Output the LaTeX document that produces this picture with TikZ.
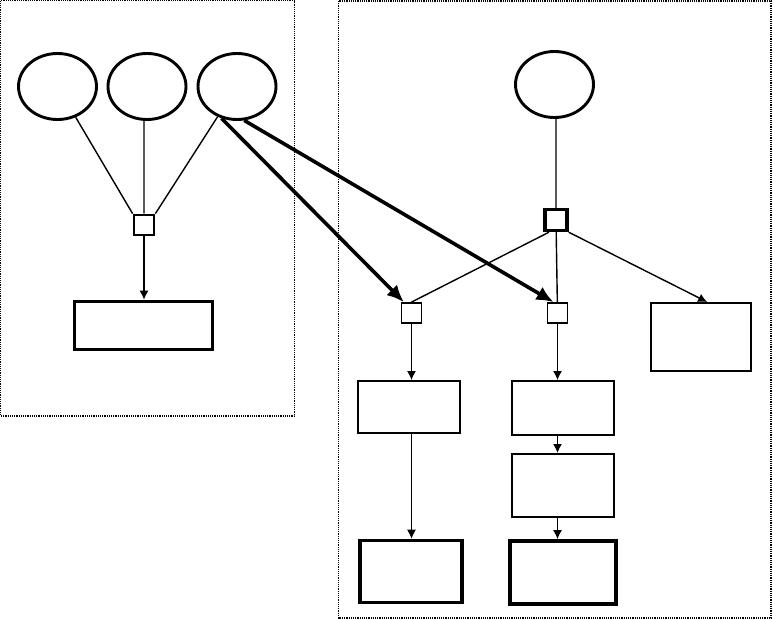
\documentclass[tikz,border=0pt]{standalone}
\usetikzlibrary{arrows.meta, shapes.geometric, positioning}

\begin{document}
\begin{tikzpicture}[x=1pt, y=-1pt, >={Latex[length=9pt, width=9pt]}]
\tikzset{
  var/.style={draw, ellipse, line width=2.9pt, minimum width=78pt, minimum height=66pt, inner sep=0pt},
  fac/.style={draw, rectangle, line width=1.8pt, minimum size=20pt, inner sep=0pt},
  bigfac/.style={fac, line width=3.4pt, minimum width=22pt, minimum height=21pt},
  box/.style={draw, rectangle, line width=2pt, inner sep=0pt},
  bigbox/.style={box, line width=3.6pt},
  link/.style={line width=1.4pt},
  flow/.style={line width=3.6pt, -{Latex[length=17pt, width=15pt]}},
}
\useasboundingbox (0,0) rectangle (773,619);
\draw[densely dotted, line width=1.2pt] (0.6,0.6) rectangle (294.5,416);
\draw[densely dotted, line width=1.2pt] (338.5,1) rectangle (771,618);

% left group
\node[var] (a) at (57.5, 86.5) {};
\node[var] (b) at (147, 86.5) {};
\node[var] (c) at (237, 86.5) {};
\node[fac, line width=2.8pt] (f1) at (144, 225) {};
\node[bigbox, minimum width=138pt, minimum height=48pt] (out) at (143.5, 325.5) {};

% right group
\node[var] (d) at (554.5, 84.5) {};
\node[bigfac] (f2) at (556, 220) {};
\node[fac] (s1) at (411.5, 313) {};
\node[fac] (s2) at (557.5, 313) {};
\node[box, minimum width=100pt, minimum height=68pt] (r3) at (701, 337) {};
\node[box, minimum width=102pt, minimum height=52pt] (ra) at (409, 407) {};
\node[box, minimum width=102pt, minimum height=54pt] (rb) at (563, 408) {};
\node[box, minimum width=102pt, minimum height=63pt] (rc) at (563, 485.5) {};
\node[bigbox, minimum width=102pt, minimum height=62pt] (rd) at (411, 571.5) {};
\node[bigbox, minimum width=106pt, minimum height=63pt] (re) at (563, 572.5) {};

\draw[link]
  (a) -- (f1.north west)
  (f1.north) -- (f1.north |- b.south)
  (c) -- (f1.north east)
  (d.south -| f2) -- (f2)
  (f2.-120) -- (s1.north)
  (f2) -- (s2);
\draw[link, ->] (f1.south) -- (out.north -| f1);
\draw[link, ->] (f2.south east) -- (r3.80);
\draw[line width=1.2pt, ->] (s1.south) -- (s1.south |- ra.north);
\draw[line width=1.2pt, ->] (s2.south) -- (s2.south |- rb.north);
\draw[line width=1.2pt, ->] (ra.south -| s1) -- (rd.north -| s1);
\draw[link, ->] (rb.south -| s2) -- (rc.north -| s2);
\draw[link, ->] (rc.south -| s2) -- (re.north -| s2);

\draw[flow] (c.-116) -- (s1.125);
\draw[flow] (c.-78) -- (s2.110);
\end{tikzpicture}
\end{document}
